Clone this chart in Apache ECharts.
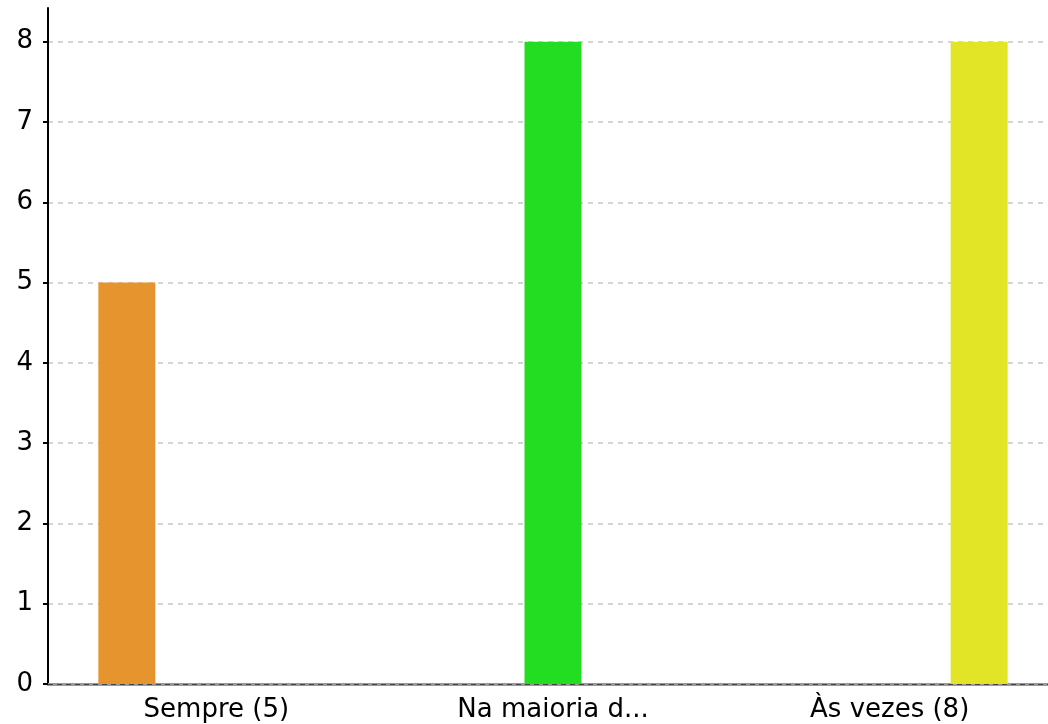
<!DOCTYPE html>
<html>
<head>
<meta charset="utf-8">
<script src="https://cdn.jsdelivr.net/npm/echarts@6/dist/echarts.min.js"></script>
<style>html,body{margin:0;padding:0;background:#fff;overflow:hidden;width:1048px;height:724px;}#c{width:1058px;height:724px;}</style>
</head>
<body>
<div id="c"></div>
<script>
const categories = ['Sempre (5)', 'Na maioria d...', 'Às vezes (8)'];
const values = [5, 8, 8];
const colors = ['#e5942e', '#22dd22', '#e1e526'];
const yTicks = [0, 1, 2, 3, 4, 5, 6, 7, 8];

const chart = echarts.init(document.getElementById('c'), null, {renderer: 'canvas'});
const series = values.map((v, i) => ({
  type: 'bar',
  name: categories[i],
  data: categories.map((_, j) => (j === i ? v : null)),
  barWidth: 57,
  barGap: '57%',
  itemStyle: {color: colors[i]},
  z: 2,
  markLine: i === 0 ? {
    silent: true, symbol: 'none', label: {show: false},
    lineStyle: {type: [5, 4], color: '#444', width: 1},
    data: [{yAxis: 0}], z: 5
  } : undefined
}));

chart.setOption({
  animation: false,
  backgroundColor: '#fff',
  grid: {left: 48, top: 8, right: 0, bottom: 40, containLabel: false},
  xAxis: {
    type: 'category',
    data: categories,
    axisTick: {show: false},
    axisLine: {lineStyle: {color: '#999', width: 3}},
    axisLabel: {color: '#000', fontSize: 26, fontFamily: 'DejaVu Sans', margin: 13, interval: 0}
  },
  yAxis: {
    type: 'value',
    min: yTicks[0],
    max: 8.42,
    interval: 1,
    axisLine: {show: true, lineStyle: {color: '#000', width: 2}},
    axisTick: {show: true, length: 5, lineStyle: {color: '#000', width: 2}},
    axisLabel: {color: '#000', fontSize: 26, fontFamily: 'DejaVu Sans', margin: 15, showMaxLabel: false},
    splitLine: {show: true, showMaxLine: false, showMinLine: false, lineStyle: {color: '#c8c8c8', type: [5, 5], width: 1.5}}
  },
  series: series
});
</script>
</body>
</html>
